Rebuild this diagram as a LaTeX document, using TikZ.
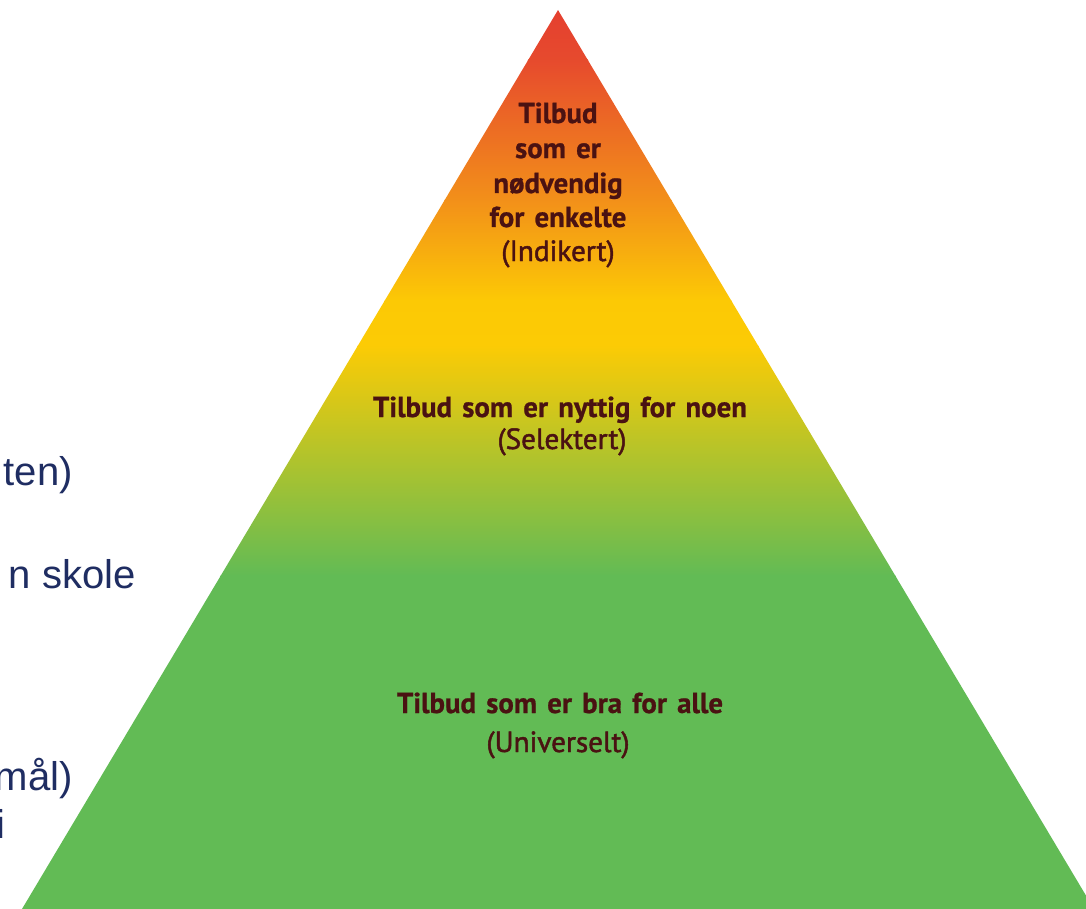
\documentclass[tikz,border=0pt]{standalone}
\usepackage{fontspec}
\setmainfont{Liberation Sans}
\newfontfamily\tierfont{PT Sans}[WordSpace=1.4, BoldFeatures={FakeBold=0.8}]
\newfontfamily\tiersubfont{PT Sans}[FakeBold=1.6]
\usepackage{tikz}
\usetikzlibrary{positioning}
\definecolor{tiertext}{HTML}{4A1212}
\definecolor{sidenavy}{HTML}{1F2D62}
\definecolor{tipred}{HTML}{E43D30}
\definecolor{warmorange}{HTML}{EC6A27}
\definecolor{sunyellow}{HTML}{FCC905}
\definecolor{baseyellow}{HTML}{FCCB05}
\definecolor{leafgreen}{HTML}{62BB55}

\begin{document}
\begin{tikzpicture}[
    x=0.02cm, y=-0.02cm,
    tierhead/.style={inner sep=0pt, text=tiertext, font=\tierfont\bfseries\fontsize{16.4}{17}\selectfont},
    tiersub/.style={inner sep=0pt, text=tiertext, font=\tiersubfont\fontsize{16.6}{17}\selectfont},
    sidetext/.style={inner sep=0pt, text=sidenavy, font=\fontsize{22.8}{27}\selectfont, anchor=base east},
]
\useasboundingbox (0,0) rectangle (1086,909);
\clip (0,0) rectangle (1086,909);

\coordinate (apex) at (558,10);
\coordinate (baseleft) at (22,909);
\coordinate (baseright) at (1094,909);

\begin{scope}
    \clip (apex) -- (baseleft) -- (baseright) -- cycle;
    \shade[top color=tipred, bottom color=tipred!70!warmorange] (0,0) rectangle (1100,61);
    \shade[top color=tipred!70!warmorange, bottom color=warmorange!60!sunyellow] (0,60) rectangle (1100,201);
    \shade[top color=warmorange!60!sunyellow, bottom color=sunyellow] (0,200) rectangle (1100,301);
    \shade[top color=sunyellow, bottom color=baseyellow] (0,300) rectangle (1100,346);
    \shade[top color=baseyellow, bottom color=leafgreen] (0,345) rectangle (1100,576);
    \fill[leafgreen] (0,575) rectangle (1100,920);
\end{scope}

% top tier
\node[tierhead, anchor=base] (indA) at (558,123) {Tilbud};
\node[tierhead, anchor=base] (indB) at (558,158) {som er};
\node[tierhead, anchor=base] (indC) at (558,193) {nødvendig};
\node[tierhead, anchor=base] (indD) at (558,227) {for enkelte};
\node[tiersub, anchor=base] (indsub) at (558,261) {(Indikert)};

% middle tier
\node[tierhead, anchor=base] (selhead) at (560,417) {Tilbud som er nyttig for noen};
\node[tiersub, anchor=base] (selsub) at (562,449) {(Selektert)};

% bottom tier
\node[tierhead, anchor=base] (unihead) at (560,713) {Tilbud som er bra for alle};
\node[tiersub, anchor=base] (unisub) at (558,752) {(Universelt)};

% cut-off text at the left
\node[sidetext] (sideA) at (73,485) {ten)};
\node[sidetext] (sideB) at (136,588) {n skole};
\node[sidetext] (sideC) at (73,790) {mål)};
\node[sidetext] (sideD) at (6,838) {i};
\end{tikzpicture}
\end{document}
